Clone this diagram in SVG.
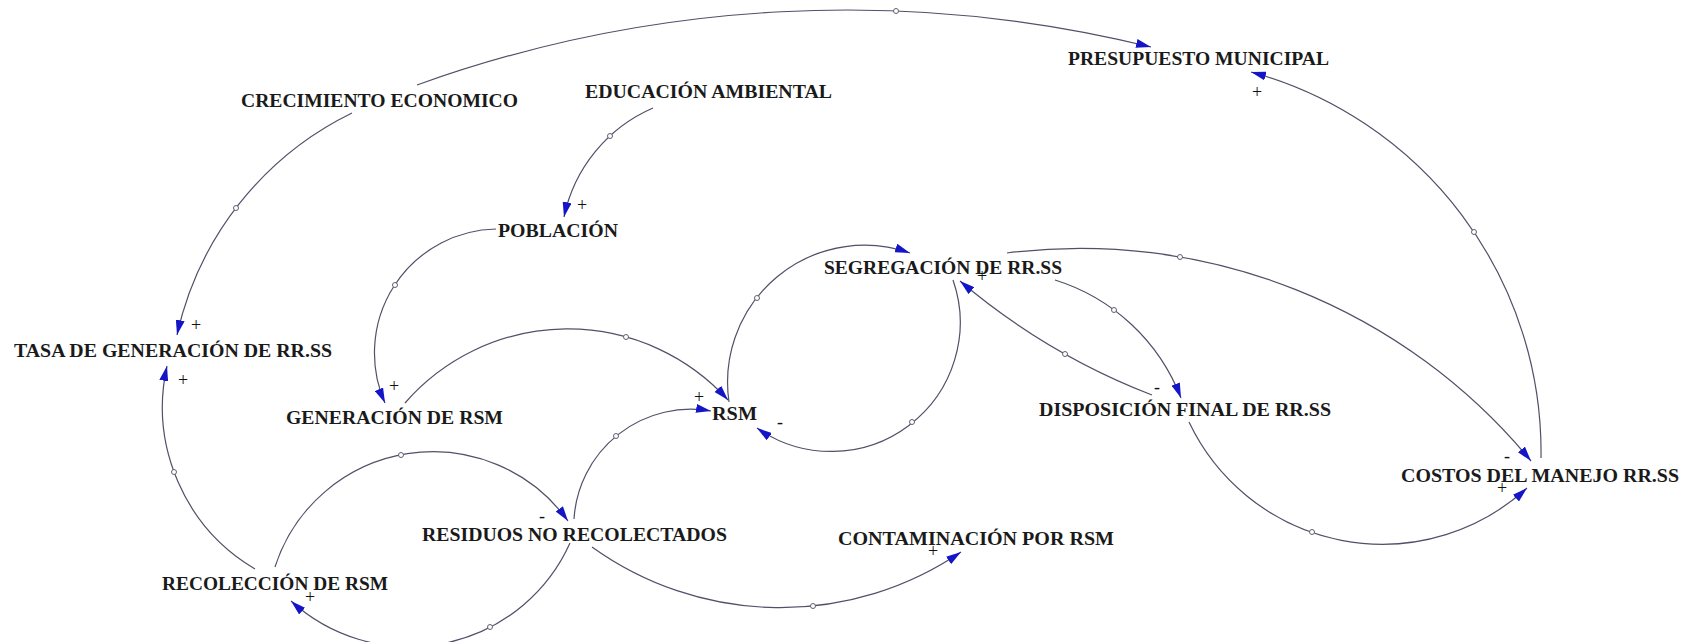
<svg xmlns="http://www.w3.org/2000/svg" width="1694" height="642" viewBox="0 0 1694 642">
<defs>
<style>
.lbl{font-family:"Liberation Serif","Times New Roman",serif;font-size:19.5px;font-weight:bold;fill:#1a1a1a;text-anchor:middle}
.lnk{fill:none;stroke:#505068;stroke-width:1.2;marker-end:url(#arr)}
.hdl{fill:#fff;stroke:#606070;stroke-width:1}
.sg{font-family:"Liberation Serif","Times New Roman",serif;font-size:18px;fill:#111;text-anchor:middle}
</style>
<marker id="arr" viewBox="0 0 15 9" refX="15" refY="4.5" markerWidth="15" markerHeight="9" markerUnits="userSpaceOnUse" orient="auto">
<path d="M0,0 L15,4.5 L0,9 z" fill="#1515c8"/>
</marker>
</defs>
<rect width="1694" height="642" fill="#fff"/>
<g id="connectors">
<path class="lnk" d="M417,85 A1270,1270 0 0 1 1151,47"/>
<path class="lnk" d="M352,113 A325,325 0 0 0 177,335"/>
<path class="lnk" d="M653,108 A153,153 0 0 0 564,217"/>
<path class="lnk" d="M496,229 A124,124 0 0 0 385,403"/>
<path class="lnk" d="M405,403 A216,216 0 0 1 728,400"/>
<path class="lnk" d="M729,402 A137,137 0 0 1 910,253"/>
<path class="lnk" d="M953,280 A129,129 0 0 1 757,428"/>
<path class="lnk" d="M1152,395 A671,671 0 0 1 960,281"/>
<path class="lnk" d="M1055,280 A198,198 0 0 1 1181,398"/>
<path class="lnk" d="M1007,253 A584,584 0 0 1 1531,461"/>
<path class="lnk" d="M1541,458 A394,394 0 0 0 1251,72"/>
<path class="lnk" d="M1189,422 A214,214 0 0 0 1527,488"/>
<path class="lnk" d="M592,547 A322,322 0 0 0 961,552"/>
<path class="lnk" d="M574,519 A117,117 0 0 1 711,411"/>
<path class="lnk" d="M275,567 A166,166 0 0 1 568,521"/>
<path class="lnk" d="M570,543 A176,176 0 0 1 291,601"/>
<path class="lnk" d="M255,569 A188,188 0 0 1 167,366"/>
<g id="handles">
<circle class="hdl" cx="896" cy="11" r="2.5"/>
<circle class="hdl" cx="236" cy="208" r="2.5"/>
<circle class="hdl" cx="610" cy="136" r="2.5"/>
<circle class="hdl" cx="395" cy="285" r="2.5"/>
<circle class="hdl" cx="626" cy="337" r="2.5"/>
<circle class="hdl" cx="757" cy="298" r="2.5"/>
<circle class="hdl" cx="912" cy="422" r="2.5"/>
<circle class="hdl" cx="1065" cy="354" r="2.5"/>
<circle class="hdl" cx="1114" cy="310" r="2.5"/>
<circle class="hdl" cx="1180" cy="257" r="2.5"/>
<circle class="hdl" cx="1474" cy="232" r="2.5"/>
<circle class="hdl" cx="1312" cy="532" r="2.5"/>
<circle class="hdl" cx="813" cy="606" r="2.5"/>
<circle class="hdl" cx="616" cy="436" r="2.5"/>
<circle class="hdl" cx="401" cy="455" r="2.5"/>
<circle class="hdl" cx="490" cy="627" r="2.5"/>
<circle class="hdl" cx="174" cy="472" r="2.5"/>
</g>
<g id="polarities">
<text class="sg" x="196" y="331">+</text>
<text class="sg" x="582" y="211">+</text>
<text class="sg" x="394" y="392">+</text>
<text class="sg" x="699" y="403">+</text>
<text class="sg" x="780" y="428">-</text>
<text class="sg" x="982" y="282">+</text>
<text class="sg" x="1157" y="393">-</text>
<text class="sg" x="1507" y="462">-</text>
<text class="sg" x="1257" y="98">+</text>
<text class="sg" x="1502" y="494">+</text>
<text class="sg" x="933" y="557">+</text>
<text class="sg" x="542" y="522">-</text>
<text class="sg" x="310" y="603">+</text>
<text class="sg" x="183" y="386">+</text>
</g>
</g>
<g id="n-crecimiento"><text class="lbl" x="379.5" y="107" textLength="277" lengthAdjust="spacingAndGlyphs">CRECIMIENTO ECONOMICO</text></g>
<g id="n-educacion"><text class="lbl" x="708.5" y="98" textLength="247" lengthAdjust="spacingAndGlyphs">EDUCACIÓN AMBIENTAL</text></g>
<g id="n-presupuesto"><text class="lbl" x="1198.5" y="65" textLength="261" lengthAdjust="spacingAndGlyphs">PRESUPUESTO MUNICIPAL</text></g>
<g id="n-poblacion"><text class="lbl" x="558" y="237" textLength="120" lengthAdjust="spacingAndGlyphs">POBLACIÓN</text></g>
<g id="n-segregacion"><text class="lbl" x="943" y="274" textLength="238" lengthAdjust="spacingAndGlyphs">SEGREGACIÓN DE RR.SS</text></g>
<g id="n-tasa"><text class="lbl" x="173" y="357" textLength="318" lengthAdjust="spacingAndGlyphs">TASA DE GENERACIÓN DE RR.SS</text></g>
<g id="n-generacion"><text class="lbl" x="394.5" y="424" textLength="217" lengthAdjust="spacingAndGlyphs">GENERACIÓN DE RSM</text></g>
<g id="n-rsm"><text class="lbl" x="734.5" y="420" textLength="45" lengthAdjust="spacingAndGlyphs">RSM</text></g>
<g id="n-disposicion"><text class="lbl" x="1185" y="416" textLength="292" lengthAdjust="spacingAndGlyphs">DISPOSICIÓN FINAL DE RR.SS</text></g>
<g id="n-costos"><text class="lbl" x="1540" y="482" textLength="278" lengthAdjust="spacingAndGlyphs">COSTOS DEL MANEJO RR.SS</text></g>
<g id="n-residuos"><text class="lbl" x="574.5" y="541" textLength="305" lengthAdjust="spacingAndGlyphs">RESIDUOS NO RECOLECTADOS</text></g>
<g id="n-contaminacion"><text class="lbl" x="976" y="545" textLength="276" lengthAdjust="spacingAndGlyphs">CONTAMINACIÓN POR RSM</text></g>
<g id="n-recoleccion"><text class="lbl" x="275" y="590" textLength="226" lengthAdjust="spacingAndGlyphs">RECOLECCIÓN DE RSM</text></g>
</svg>
